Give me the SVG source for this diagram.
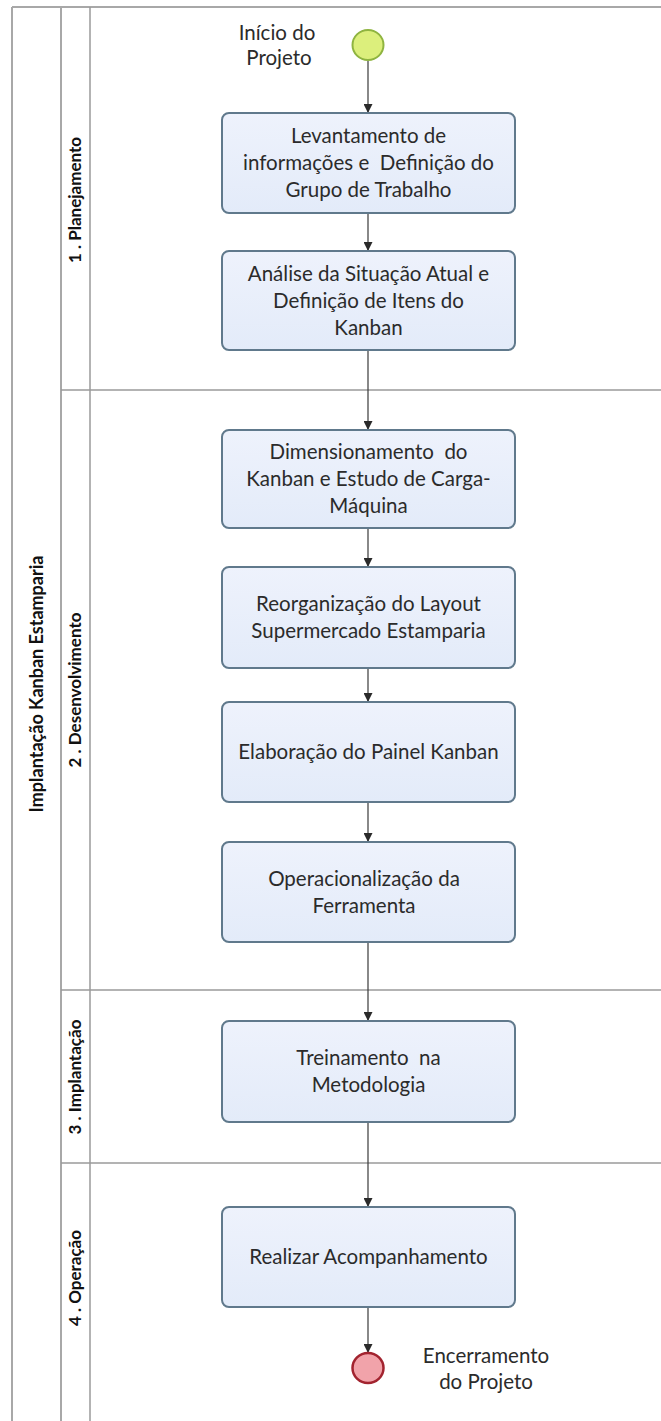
<svg xmlns="http://www.w3.org/2000/svg" width="661" height="1421" viewBox="0 0 661 1421">
  <defs>
    <linearGradient id="taskFill" x1="0" y1="0" x2="0" y2="1">
      <stop offset="0" stop-color="#eef2fc"/>
      <stop offset="1" stop-color="#e3ebf9"/>
    </linearGradient>
    <marker id="arrow" viewBox="0 0 10 10" refX="10" refY="5" markerWidth="9" markerHeight="9" markerUnits="userSpaceOnUse" orient="auto">
      <path d="M0,0 L10,5 L0,10 z" fill="#2a2a2a"/>
    </marker>
    <style>
      .pool { fill: none; stroke: #a8a8a8; stroke-width: 2; }
      .lane { fill: none; stroke: #9a9a9a; stroke-width: 1.5; }
      .task { fill: url(#taskFill); stroke: #60798c; stroke-width: 2; }
      .txt { font-family: Lato, "Liberation Sans", sans-serif; font-size: 20.5px; fill: #2b2b2b; text-anchor: middle; white-space: pre; }
      .hdr { font-family: Lato, "Liberation Sans", sans-serif; font-size: 17px; font-weight: bold; fill: #111; text-anchor: middle; }
      .hdr-pool { font-size: 18px; }
      .flow { fill: none; stroke: #3a3a3a; stroke-width: 1.2; marker-end: url(#arrow); }
    </style>
  </defs>

  <rect width="661" height="1421" fill="#ffffff"/>

  <!-- pool and lanes -->
  <g id="pool">
    <line class="pool" x1="12" y1="7" x2="661" y2="7"/>
    <line class="pool" x1="12" y1="7" x2="12" y2="1421"/>
    <line class="pool" x1="61" y1="7" x2="61" y2="1421"/>
    <line class="lane" x1="90" y1="7" x2="90" y2="1421"/>
    <line class="lane" x1="61" y1="390" x2="661" y2="390"/>
    <line class="lane" x1="61" y1="990" x2="661" y2="990"/>
    <line class="lane" x1="61" y1="1163" x2="661" y2="1163"/>
    <text class="hdr hdr-pool" transform="translate(43,684) rotate(-90)">Implantação Kanban Estamparia</text>
    <text class="hdr" transform="translate(81,200) rotate(-90)">1 . Planejamento</text>
    <text class="hdr" transform="translate(81,690) rotate(-90)">2 . Desenvolvimento</text>
    <text class="hdr" transform="translate(81,1077) rotate(-90)">3 . Implantação</text>
    <text class="hdr" transform="translate(81,1278) rotate(-90)">4 . Operação</text>
  </g>

  <!-- connectors -->
  <g id="connectors">
    <line class="flow" x1="368" y1="61" x2="368" y2="113"/>
    <line class="flow" x1="368" y1="213" x2="368" y2="251"/>
    <line class="flow" x1="368" y1="350" x2="368" y2="430"/>
    <line class="flow" x1="368" y1="528" x2="368" y2="567"/>
    <line class="flow" x1="368" y1="668" x2="368" y2="702"/>
    <line class="flow" x1="368" y1="802" x2="368" y2="842"/>
    <line class="flow" x1="368" y1="942" x2="368" y2="1021"/>
    <line class="flow" x1="368" y1="1122" x2="368" y2="1207"/>
    <line class="flow" x1="368" y1="1307" x2="368" y2="1353"/>
  </g>

  <!-- events -->
  <g id="start">
    <ellipse cx="368" cy="45" rx="15.5" ry="15" fill="#dcef7c" stroke="#8fb440" stroke-width="2"/>
    <text class="txt" x="277" y="40">Início do</text>
    <text class="txt" x="279" y="65">Projeto</text>
  </g>
  <g id="end">
    <ellipse cx="368" cy="1368" rx="15.5" ry="15" fill="#f1a3aa" stroke="#a2232f" stroke-width="2.5"/>
    <text class="txt" x="486" y="1363">Encerramento</text>
    <text class="txt" x="486" y="1389">do Projeto</text>
  </g>

  <!-- tasks -->
  <g id="task1">
    <rect class="task" x="222" y="113" width="293" height="100" rx="7"/>
    <text class="txt" x="368.5" y="143">Levantamento de</text>
    <text class="txt" x="368.5" y="170">informações e  Definição do</text>
    <text class="txt" x="368.5" y="197">Grupo de Trabalho</text>
  </g>
  <g id="task2">
    <rect class="task" x="222" y="251" width="293" height="99" rx="7"/>
    <text class="txt" x="368.5" y="281">Análise da Situação Atual e</text>
    <text class="txt" x="368.5" y="308">Definição de Itens do</text>
    <text class="txt" x="368.5" y="335">Kanban</text>
  </g>
  <g id="task3">
    <rect class="task" x="222" y="430" width="293" height="98" rx="7"/>
    <text class="txt" x="368.5" y="459">Dimensionamento  do</text>
    <text class="txt" x="368.5" y="486">Kanban e Estudo de Carga-</text>
    <text class="txt" x="368.5" y="513">Máquina</text>
  </g>
  <g id="task4">
    <rect class="task" x="222" y="567" width="293" height="101" rx="7"/>
    <text class="txt" x="368.5" y="611">Reorganização do Layout</text>
    <text class="txt" x="368.5" y="638">Supermercado Estamparia</text>
  </g>
  <g id="task5">
    <rect class="task" x="222" y="702" width="293" height="100" rx="7"/>
    <text class="txt" x="368.5" y="759">Elaboração do Painel Kanban</text>
  </g>
  <g id="task6">
    <rect class="task" x="222" y="842" width="293" height="100" rx="7"/>
    <text class="txt" x="364" y="886">Operacionalização da</text>
    <text class="txt" x="364" y="913">Ferramenta</text>
  </g>
  <g id="task7">
    <rect class="task" x="222" y="1021" width="293" height="101" rx="7"/>
    <text class="txt" x="368.5" y="1065">Treinamento  na</text>
    <text class="txt" x="368.5" y="1092">Metodologia</text>
  </g>
  <g id="task8">
    <rect class="task" x="222" y="1207" width="293" height="100" rx="7"/>
    <text class="txt" x="368.5" y="1264">Realizar Acompanhamento</text>
  </g>
</svg>
